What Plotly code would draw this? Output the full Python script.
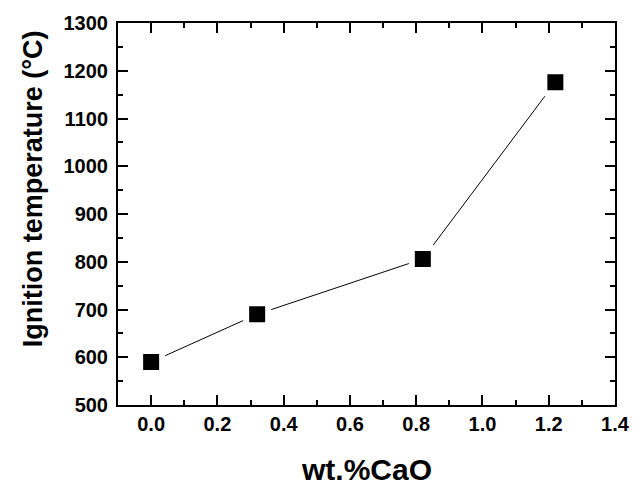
import plotly.graph_objects as go

# CaO content (wt.%) and measured ignition temperature (°C)
cao_wt = [0.0, 0.32, 0.82, 1.22]
ignition_temp = [590, 690, 806, 1176]

x_ticks = [0.0, 0.2, 0.4, 0.6, 0.8, 1.0, 1.2, 1.4]
y_ticks = [500, 600, 700, 800, 900, 1000, 1100, 1200, 1300]

fig = go.Figure()
fig.add_trace(go.Scatter(
    x=cao_wt, y=ignition_temp,
    mode="lines+markers",
    line=dict(color="black", width=1),
    marker=dict(symbol="square", size=22, color="black",
                line=dict(color="white", width=6)),
    showlegend=False,
))

font = "Liberation Sans, Arial, sans-serif"
axis_common = dict(
    showline=True, linecolor="black", linewidth=2, mirror="allticks",
    ticks="inside", ticklen=10, tickwidth=2, tickcolor="black",
    showgrid=False, zeroline=False,
    tickfont=dict(family=font, size=20, color="black", weight="bold"),
)

fig.update_xaxes(
    range=[-0.1, 1.4], tickvals=x_ticks,
    ticktext=[f"{v:.1f}" for v in x_ticks],
    minor=dict(dtick=0.1, tick0=0, ticks="inside", ticklen=5,
               tickwidth=2, tickcolor="black"),
    **axis_common,
)
fig.update_yaxes(
    range=[500, 1300], tickvals=y_ticks,
    ticklabelstandoff=4,
    minor=dict(dtick=50, tick0=0, ticks="inside", ticklen=5,
               tickwidth=2, tickcolor="black"),
    **axis_common,
)

# axis titles
fig.add_annotation(
    text="wt.%CaO", xref="paper", yref="paper", x=0.5, y=-0.17,
    xanchor="center", yanchor="middle", showarrow=False,
    font=dict(family=font, size=30, color="black", weight="bold"),
)
fig.add_annotation(
    text="Ignition temperature (°C)", xref="paper", yref="paper",
    x=-0.172, y=0.566, xanchor="center", yanchor="middle", textangle=-90,
    showarrow=False,
    font=dict(family=font, size=27, color="black", weight="bold"),
)

fig.update_layout(
    width=642, height=486,
    margin=dict(l=118, r=16, t=21, b=81),
    plot_bgcolor="white", paper_bgcolor="white",
)

fig.write_html("out.html")
